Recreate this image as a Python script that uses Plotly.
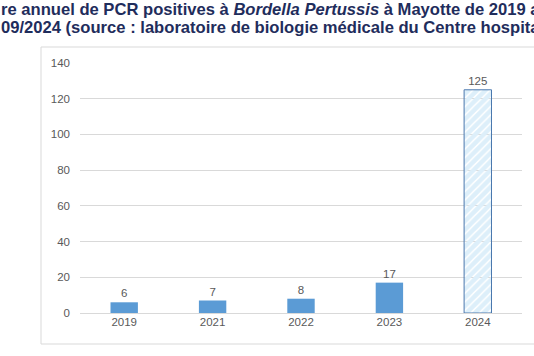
import plotly.graph_objects as go

years = ["2019", "2021", "2022", "2023", "2024"]
counts = [6, 7, 8, 17, 125]
y_ticks = [0, 20, 40, 60, 80, 100, 120, 140]
title_line1 = "re annuel de PCR positives à <i>Bordella Pertussis</i> à Mayotte de 2019 a"
title_line2 = "09/2024 (source : laboratoire de biologie médicale du Centre hospita"

W, H = 534, 356
L, R, T, B = 80, 522, 63, 313  # plot area in pixels


def px_x(p):
    return (p - L) / (R - L)


def px_y(p):
    return (B - p) / (B - T)


solid = "#5B9BD5"
fig = go.Figure()
fig.add_trace(go.Bar(
    x=years, y=counts,
    text=[str(v) for v in counts], textposition="outside",
    textfont=dict(family="Liberation Sans, Arial", size=11.5, color="#595959"),
    cliponaxis=False,
    width=0.31,
    marker=dict(
        color=[solid, solid, solid, solid, "#DDEFFA"],
        line=dict(color=[solid, solid, solid, solid, "#4A78AE"], width=[0, 0, 0, 0, 1]),
        pattern=dict(shape=["", "", "", "", "/"], fgcolor="#285A96",
                     bgcolor="#E2F2FB", size=6, solidity=0.75, fillmode="replace"),
    ),
    showlegend=False,
))

fig.update_layout(
    width=W, height=H,
    margin=dict(l=L, r=W - R, t=T, b=H - B, pad=0),
    paper_bgcolor="white", plot_bgcolor="white",
    xaxis=dict(showgrid=False, showline=False, ticks="", zeroline=False,
               tickfont=dict(family="Liberation Sans, Arial", size=11.5, color="#595959")),
    yaxis=dict(range=[0, 140], tickvals=y_ticks, showgrid=True, gridcolor="#D9D9D9",
               gridwidth=1, zeroline=True, zerolinecolor="#D9D9D9", zerolinewidth=1,
               showline=False, ticks="", ticklabelstandoff=9,
               tickfont=dict(family="Liberation Sans, Arial", size=11.5, color="#595959")),
    font=dict(family="Liberation Sans, Arial"),
)

# chart frame
fig.add_shape(type="rect", xref="paper", yref="paper",
              x0=px_x(41), x1=px_x(560), y0=px_y(344), y1=px_y(47),
              line=dict(color="#D9D9D9", width=1), fillcolor="rgba(0,0,0,0)", layer="below")

for txt, yc in [(title_line1, 9), (title_line2, 27)]:
    fig.add_annotation(text="<b>" + txt + "</b>", xref="paper", yref="paper",
                       x=px_x(-1), y=px_y(yc), xanchor="left", yanchor="middle",
                       showarrow=False,
                       font=dict(family="Liberation Sans, Arial", size=16.6, color="#1F2D5C"))

fig.write_html("out.html", config={"displayModeBar": False},
               post_script="document.body.style.margin='0';document.body.style.overflow='hidden';")
